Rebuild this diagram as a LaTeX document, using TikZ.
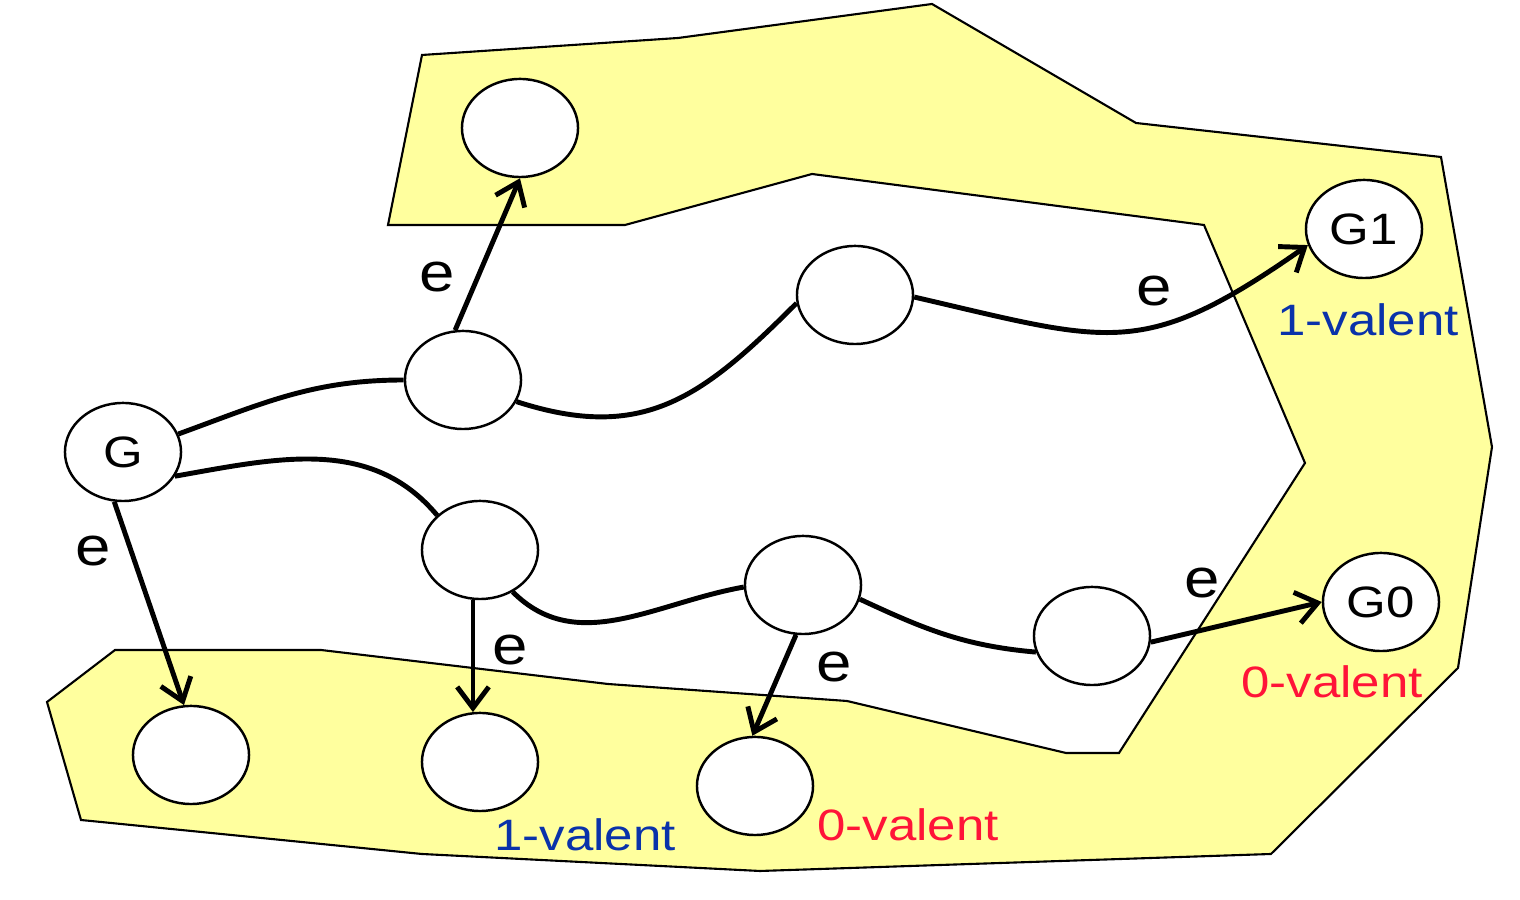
\documentclass[tikz,border=0pt]{standalone}
\usepackage{fontspec}
\setmainfont{Liberation Sans}[FakeStretch=1.16]
\usepackage{tikz}
\usetikzlibrary{arrows.meta,shapes.geometric}
\definecolor{zone}{RGB}{255,255,158}
\definecolor{oneblue}{RGB}{10,50,170}
\definecolor{zerored}{RGB}{255,20,56}

\begin{document}
\begin{tikzpicture}[x=0.01cm,y=0.01cm,
    >={Straight Barb[length=6pt,width=9pt]},
    st/.style={shape=ellipse,draw=black,line width=0.7pt,fill=white,minimum width=1.16cm,minimum height=0.98cm,inner sep=0pt,font=\fontsize{12.5}{14}\selectfont},
    run/.style={line width=1.4pt},
    lbl/.style={inner sep=0pt,font=\fontsize{15.6}{18}\selectfont},
    val/.style={inner sep=0pt,font=\fontsize{12.5}{14}\selectfont}]
\useasboundingbox (0,0) rectangle (1520,900);
    % the valent region
    \draw[fill=zone,line width=0.6pt] (422,845) -- (678,862) -- (932,896) -- (1136,777) -- (1441,743) -- (1492,453) -- (1458,232) -- (1271,46) -- (760,29) -- (422,46) -- (81,80) -- (47,198) -- (115,250) -- (321,250) -- (608,216) -- (847,199) -- (1066,147) -- (1119,147) -- (1305,437) -- (1204,675) -- (812,726) -- (625,675) -- (388,675) -- cycle;
    \node[st] (g) at (123,448) {G};
    \node[st] (u0) at (520,772) {};
    \node[st] (u1) at (463,520) {};
    \node[st] (u2) at (855,605) {};
    \node[st] (g1) at (1364,671) {G1};
    \node[st] (m1) at (480,350) {};
    \node[st] (m2) at (803,315) {};
    \node[st] (m3) at (1092,264) {};
    \node[st] (g0) at (1381,298) {G0};
    \node[st] (d1) at (191,145) {};
    \node[st] (d2) at (480,138) {};
    \node[st] (d3) at (755,114) {};
    \node[val,text=oneblue] (v1) at (1368,580) {1-valent};
    \node[val,text=zerored] (v0) at (1332,218) {0-valent};
    \node[val,text=oneblue] (w1) at (585,65) {1-valent};
    \node[val,text=zerored] (w0) at (908,75) {0-valent};
    \path [run] (g.18) edge[out=20,in=180] (u1.west);
    \path [run] (u1.-22) edge[out=-18,in=225,looseness=1.15] (u2.188);
    \path [run,->] (u2.-2) edge[out=-13,in=215,looseness=1.3] node[lbl,above=5pt,pos=0.6] {e} (g1.196);
    \path [run] (g.-25) edge[out=10,in=130] (m1.141);
    \path [run] (m1.-52) edge[out=-45,in=190] (m2.182);
    \path [run] (m2.-14) edge[out=-25,in=175] (m3.196);
    \path [run,->] (m3.-6) edge node[lbl,above=8.5pt,pos=0.3] {e} (g0.180);
    \path [run,->] (u1.99) edge node[lbl,left=5.7pt,pos=0.35] {e} (u0.south);
    \path [run,->] (g.260) edge node[lbl,left=5pt,pos=0.24] {e} (d1.98);
    \path [run,->] (m1.262) edge node[lbl,right=4.8pt,pos=0.45] {e} (d2.98);
    \path [run,->] (m2.262) edge node[lbl,right=9pt,pos=0.32] {e} (d3.93);
\end{tikzpicture}
\end{document}
